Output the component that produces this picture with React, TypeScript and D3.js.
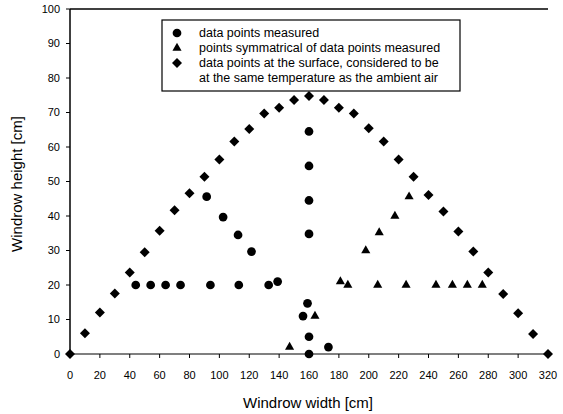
import React from "react";
import { scaleLinear, symbol, symbolCircle, symbolTriangle, symbolSquare } from "d3";

// surface points (diamonds)
const surfaceX = [0, 10, 20, 30, 40, 50, 60, 70, 80, 90, 100, 110, 120, 130, 140, 150, 160,
  170, 180, 190, 200, 210, 220, 230, 240, 250, 260, 270, 280, 290, 300, 310, 320];
const surfaceY = [0, 6, 12, 17.5, 23.6, 29.5, 35.7, 41.7, 46.6, 51.4, 56.4, 61.6, 65.2, 69.7, 71.4, 73.6, 74.8,
  73.6, 71.4, 69.7, 65.4, 61.6, 56.4, 51.4, 46.1, 41.3, 35.5, 29.7, 23.6, 17.4, 11.8, 5.8, 0];

// measured points (circles)
const measuredX = [44, 54, 64, 74, 94, 113, 133, 139, 91.5, 102.5, 112.5, 121.5, 160, 160, 160, 160, 159, 156, 160, 173, 160];
const measuredY = [20, 20, 20, 20, 20, 20, 20, 21, 45.6, 39.7, 34.5, 29.7, 64.5, 54.5, 44.5, 34.8, 14.7, 11, 5, 2, 0];

// symmetrical points (triangles)
const symX = [181, 186, 206, 225, 245, 256, 266, 276, 198, 207, 217.5, 227, 164, 147];
const symY = [21, 20, 20, 20, 20, 20, 20, 20, 30, 35.2, 40, 45.6, 11, 2];

const xTicks = [0, 20, 40, 60, 80, 100, 120, 140, 160, 180, 200, 220, 240, 260, 280, 300, 320];
const yTicks = [0, 10, 20, 30, 40, 50, 60, 70, 80, 90, 100];

const legendItems = [
  { kind: "circle", lines: ["data points measured"] },
  { kind: "triangle", lines: ["points symmatrical of data points measured"] },
  { kind: "diamond", lines: ["data points at the surface, considered to be", "at the same temperature as the ambient air"] },
];

const font = "'Liberation Sans', Arial, sans-serif";

export default function App() {
  const width = 563, height = 414;
  const x = scaleLinear().domain([0, 320]).range([70, 548]);
  const y = scaleLinear().domain([0, 100]).range([354, 9]);
  const circlePath = symbol().type(symbolCircle).size(60)();
  const triPath = symbol().type(symbolTriangle).size(36)();
  const diaPath = symbol().type(symbolSquare).size(50)();
  const place = (k: string, px: number, py: number) =>
    k === "diamond" ? `translate(${px},${py}) rotate(45)` : `translate(${px},${py})`;
  const pathFor = (k: string) => (k === "circle" ? circlePath : k === "triangle" ? triPath : diaPath);

  return (
    <svg width={width} height={height} style={{ position: "absolute", left: 0, top: 0, background: "#fff" }} fontFamily={font}>
      {/* frame */}
      <line x1={x(0)} x2={x(320)} y1={y(100)} y2={y(100)} stroke="#000" strokeWidth={1.5} />
      <line x1={x(0)} x2={x(0)} y1={y(100)} y2={y(0)} stroke="#000" strokeWidth={1.5} />
      <line x1={x(0)} x2={x(320)} y1={y(0)} y2={y(0)} stroke="#000" strokeWidth={1.2} />
      {/* y axis */}
      {yTicks.map((t) => (
        <g key={"y" + t}>
          <line x1={x(0) - 4} x2={x(0)} y1={y(t)} y2={y(t)} stroke="#000" />
          <text x={60} y={y(t)} dy="0.35em" textAnchor="end" fontSize={11}>{t}</text>
        </g>
      ))}
      {/* x axis */}
      {xTicks.map((t) => (
        <g key={"x" + t}>
          <line x1={x(t)} x2={x(t)} y1={y(0)} y2={y(0) + 4} stroke="#000" />
          <text x={x(t)} y={379} textAnchor="middle" fontSize={11}>{t}</text>
        </g>
      ))}
      <text x={308} y={408} textAnchor="middle" fontSize={15}>Windrow width [cm]</text>
      <text transform={`translate(22,184) rotate(-90)`} textAnchor="middle" fontSize={15}>Windrow height [cm]</text>

      {/* data */}
      {surfaceX.map((d, i) => (
        <path key={"s" + i} d={diaPath} transform={place("diamond", x(d), y(surfaceY[i]))} fill="#000" />
      ))}
      {measuredX.map((d, i) => (
        <path key={"m" + i} d={circlePath} transform={place("circle", x(d), y(measuredY[i]))} fill="#000" />
      ))}
      {symX.map((d, i) => (
        <path key={"t" + i} d={triPath} transform={place("triangle", x(d), y(symY[i]))} fill="#000" />
      ))}

      {/* legend */}
      <rect x={162} y={20} width={298} height={71} fill="#fff" stroke="#000" strokeWidth={1.2} />
      {legendItems.map((it, i) => (
        <g key={"l" + i} transform={`translate(0,${33 + i * 15})`}>
          <path d={pathFor(it.kind)} transform={place(it.kind, 177, 0)} fill="#000" />
          {it.lines.map((ln, j) => (
            <text key={j} x={199} y={j * 15} dy="0.35em" fontSize={12.5}>{ln}</text>
          ))}
        </g>
      ))}
    </svg>
  );
}
